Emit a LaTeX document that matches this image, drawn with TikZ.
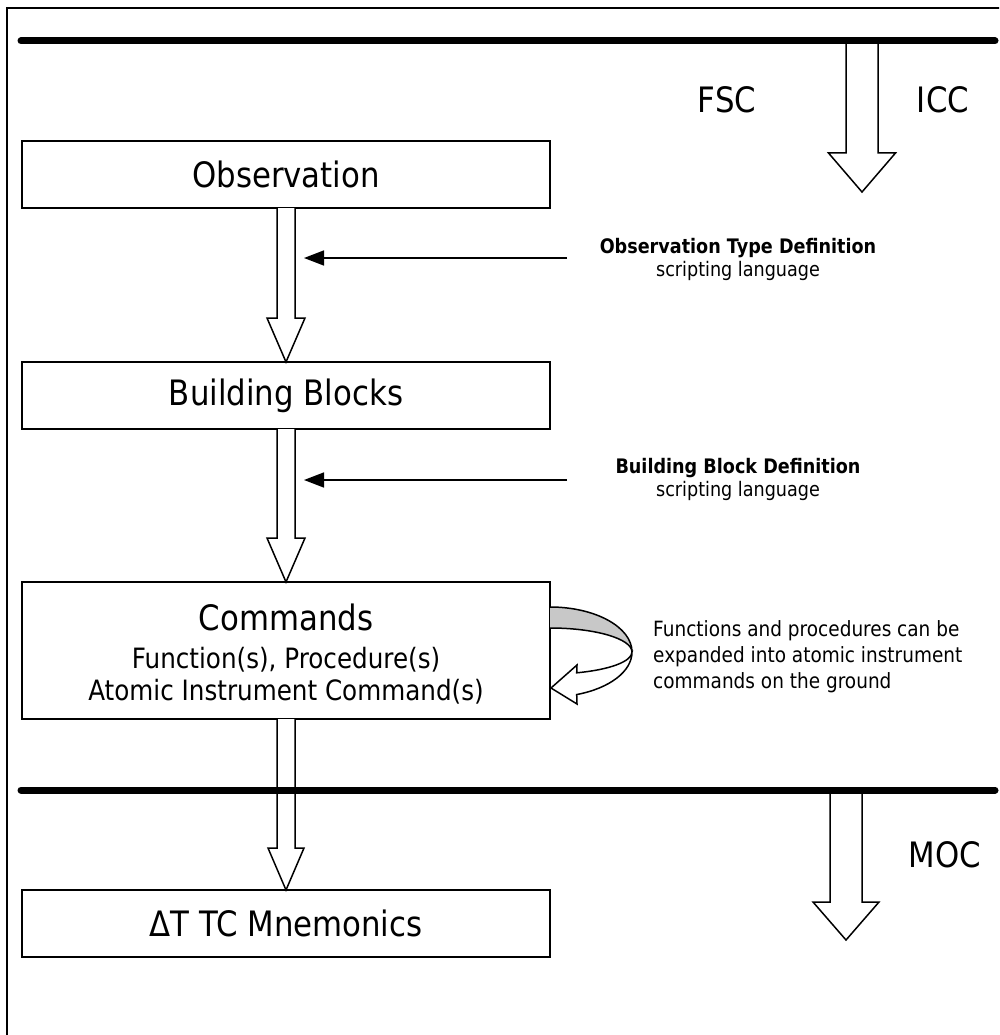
\documentclass[tikz,border=0pt]{standalone}
\usepackage{fontspec}
\setmainfont{DejaVu Sans}[FakeStretch=0.88]
\usetikzlibrary{arrows.meta,calc}
\definecolor{bandgrey}{RGB}{200,200,200}
% block arrow: #1 start, #2 tip, #3 shaft half width, #4 head half width, #5 head length
\newcommand{\blockarr}[5]{%
  \filldraw[blockarrow] let \p1=(#1), \p2=(#2) in
    (\x1-#3,\y1) -- (\x1-#3,\y2+#5) -- (\x1-#4,\y2+#5) -- (\x2,\y2)
    -- (\x1+#4,\y2+#5) -- (\x1+#3,\y2+#5) -- (\x1+#3,\y1);}
\begin{document}
\begin{tikzpicture}[x=1pt,y=1pt,
  box/.style={draw, line width=2.3pt, minimum width=528pt, inner sep=0pt, outer sep=0pt,
    font=\fontsize{35pt}{40pt}\selectfont},
  titletext/.style={inner sep=0pt, font=\fontsize{35pt}{40pt}\selectfont},
  subtext/.style={inner sep=0pt, font=\fontsize{28pt}{32pt}\selectfont},
  bigtext/.style={inner sep=0pt, font=\fontsize{35pt}{40pt}\selectfont},
  labeltext/.style={inner sep=0pt, font=\fontsize{20pt}{24pt}\selectfont},
  notetext/.style={inner sep=0pt, align=left, font=\fontsize{21pt}{26pt}\selectfont},
  blockarrow/.style={fill=white, draw=black, line width=1.5pt, line join=miter},
  thickline/.style={line width=7pt, line cap=round},
  pointer/.style={line width=1.5pt, -{Triangle[length=20pt,width=15pt]}},
  ribbon/.style={draw=black, line width=1.5pt}
]
\useasboundingbox (0,0) rectangle (999,-1035);
\clip (0,0) rectangle (999,-1035);

% outer frame (only top and left edges fall inside the picture)
\draw[line width=2pt] (7,-8) rectangle (1030,-1060);

% boxes
\node[box, minimum height=67pt] (obs) at (286,-174.5) {Observation};
\node[box, minimum height=67pt] (bb) at (286,-395.5) {Building Blocks};
\node[box, minimum height=137pt] (cmd) at (286,-650.5) {};
\node[titletext] (cmdt) at (286,-617) {Commands};
\node[subtext] (cmdf) at (286,-660) {Function(s), Procedure(s)};
\node[subtext] (cmda) at (286,-692) {Atomic Instrument Command(s)};
\node[box, minimum height=67pt] (dt) at (286,-923.5) {ΔT TC Mnemonics};

% coordinates on the thick lines
\coordinate (l1a) at (21,-41);
\coordinate (l1b) at (995,-41);
\coordinate (l2a) at (21,-790);
\coordinate (l2b) at (995,-790);
\coordinate (fsctop) at (862,-41);
\coordinate (fsctip) at (862,-192);
\coordinate (moctop) at (846,-790);
\coordinate (moctip) at (846,-940);

% block arrows
\blockarr{obs.south}{bb.north}{9}{19}{44}
\blockarr{bb.south}{cmd.north}{9}{19}{44}
\blockarr{cmd.south}{dt.north}{9}{18}{42}
\blockarr{fsctop}{fsctip}{16}{33.5}{39}
\blockarr{moctop}{moctip}{16}{33}{38}

% thick horizontal lines
\draw[thickline] (l1a) -- (l1b);
\draw[thickline] (l2a) -- (l2b);

% FSC / ICC / MOC
\node[bigtext] (fsc) at (727,-100) {FSC};
\node[bigtext] (icc) at (943,-100) {ICC};
\node[bigtext] (moc) at (945,-855) {MOC};

% definition pointers
\coordinate (p1s) at (567,-258);
\coordinate (p1e) at (304,-258);
\coordinate (p2s) at (567,-480);
\coordinate (p2e) at (304,-480);
\draw[pointer] (p1s) -- (p1e);
\draw[pointer] (p2s) -- (p2e);
\node[labeltext] (otd) at (738,-248) {\textbf{Observation Type Definition}};
\node[labeltext] (otds) at (738,-271) {scripting language};
\node[labeltext] (bbd) at (738,-468) {\textbf{Building Block Definition}};
\node[labeltext] (bbds) at (738,-491) {scripting language};

% curved ribbon arrow
\fill[bandgrey] (550,-607) arc[start angle=90,end angle=0,x radius=82,y radius=45]
  arc[start angle=0,end angle=90,x radius=82,y radius=24] -- cycle;
\draw[ribbon] (550,-607) arc[start angle=90,end angle=0,x radius=82,y radius=45];
\draw[ribbon] (632,-652) arc[start angle=0,end angle=90,x radius=82,y radius=24];
\filldraw[ribbon, fill=white, line join=miter] (632,-652)
  arc[start angle=0,end angle=-71,x radius=82,y radius=45]
  -- (577,-704) -- (551,-688) -- (577,-665) -- (576.7,-672.8)
  arc[start angle=-71,end angle=0,x radius=82,y radius=22] -- cycle;

\node[notetext, anchor=north west] (note) at (653,-620)
  {Functions and procedures can be\\expanded into atomic instrument\\commands on the ground};
\end{tikzpicture}
\end{document}
